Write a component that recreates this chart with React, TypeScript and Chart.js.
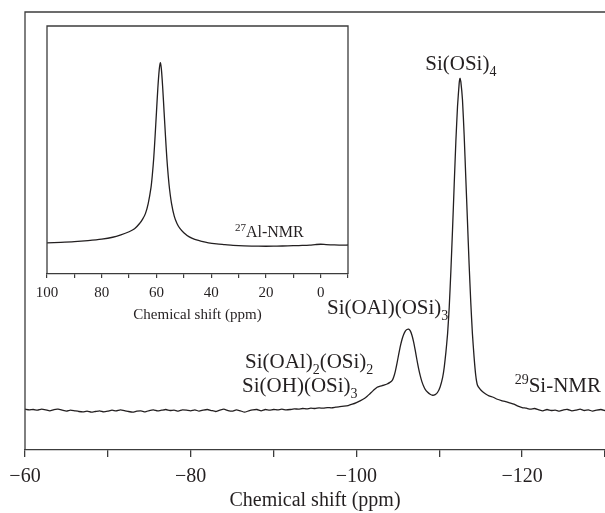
import React, { useEffect, useRef } from 'react';
import { Chart, registerables } from 'chart.js';

Chart.register(...registerables);

// 29Si MAS NMR spectrum (main plot)
const siShift = [
  -60, -60.5, -61, -61.5, -62, -62.5, -63, -63.5, -64, -64.5, -65, -65.5, -66, -66.5, -67, -67.5,
  -68, -68.5, -69, -69.5, -70, -70.5, -71, -71.5, -72, -72.5, -73, -73.5, -74, -74.5, -75, -75.5,
  -76, -76.5, -77, -77.5, -78, -78.5, -79, -79.5, -80, -80.5, -81, -81.5, -82, -82.5, -83, -83.5,
  -84, -84.5, -85, -85.5, -86, -86.5, -87, -87.5, -88, -88.5, -89, -89.5, -90, -90.5, -91, -91.5,
  -92, -92.5, -93, -93.5, -94, -94.5, -95, -95.5,
  -96, -96.5, -97, -97.5, -98, -98.5, -99, -99.5, -100, -100.5, -101, -101.3, -101.6, -101.9,
  -102.2, -102.5, -102.8, -103.1, -103.4, -103.7, -104.0, -104.3, -104.5, -104.7, -104.9, -105.1,
  -105.3, -105.5, -105.7, -105.9, -106.1, -106.3, -106.5, -106.7, -106.9, -107.1, -107.3, -107.5,
  -107.7, -107.9, -108.1, -108.3, -108.6, -108.9, -109.2, -109.5, -109.8, -110.1, -110.4, -110.6,
  -110.8, -111.0, -111.2, -111.4, -111.6, -111.8, -112.0, -112.2, -112.4, -112.5, -112.6, -112.8,
  -113.0, -113.2, -113.4, -113.6, -113.8, -114.0, -114.2, -114.4, -114.6, -114.9, -115.2, -115.6,
  -116.0, -116.5, -117.0, -117.5, -118.0, -118.5, -119.0, -119.5, -120.0, -120.5, -121, -121.5,
  -122, -122.5, -123, -123.5, -124, -124.5, -125, -125.5, -126, -126.5, -127, -127.5, -128, -128.5,
  -129, -129.5, -130,
];
const siIntensity = [
  0.3, 0.1, 0.2, 0.0, 0.3, 0.1, -0.2, 0.2, 0.3, 0.0, -0.3, 0.0, -0.2, -0.4, -0.5, -0.3,
  -0.6, -0.4, -0.2, -0.5, -0.3, 0.0, -0.2, 0.1, -0.1, -0.4, -0.6, -0.3, -0.2, -0.5, -0.1, 0.1,
  -0.2, 0.0, 0.2, -0.1, 0.0, -0.3, 0.1, 0.0, -0.2, 0.1, -0.3, 0.0, 0.2, -0.1, -0.4, 0.0,
  0.3, -0.1, -0.3, 0.1, -0.2, -0.6, -0.2, 0.1, 0.2, -0.2, 0.2, 0.0, 0.2, 0.1, 0.3, 0.1,
  0.2, 0.4, 0.3, 0.5, 0.4, 0.6, 0.5, 0.7,
  0.6, 0.8, 0.7, 0.9, 1.1, 1.2, 1.4, 1.8, 2.3, 2.9, 3.6, 4.2, 4.9, 5.6,
  6.3, 6.9, 7.2, 7.4, 7.6, 7.9, 8.3, 8.9, 10.0, 11.8, 14.2, 16.8,
  19.3, 21.3, 22.8, 23.8, 24.3, 24.4, 23.9, 22.6, 20.6, 18.0, 15.2, 12.6,
  10.4, 8.6, 7.3, 6.3, 5.4, 4.8, 4.5, 4.7, 5.4, 7.0, 9.8, 13.0,
  17.5, 23.0, 31.0, 42.0, 54.5, 68.0, 81.0, 91.5, 98.5, 100, 99, 93.5,
  83, 70, 57, 44, 32.5, 23, 16, 10.5, 7.6, 6.4, 5.6, 4.9,
  4.3, 3.9, 3.3, 2.9, 2.6, 2.2, 1.8, 1.2, 0.8, 0.6, 0.3, 0.5,
  0.1, -0.2, 0.2, -0.1, 0.0, -0.3, 0.1, 0.2, -0.2, 0.0, 0.3, -0.1, 0.1, -0.3,
  0.0, 0.2, -0.1,
];

// 27Al MAS NMR spectrum (inset)
const alShift = [
  100, 95, 90, 85, 80, 76, 73, 70, 68, 66, 65, 64, 63, 62, 61.5, 61, 60.5, 60, 59.5, 59, 58.6,
  58.2, 57.7, 57.2, 56.7, 56.2, 55.7, 55.2, 54.5, 53.5, 52.5, 51.5, 50, 48, 46, 44, 41, 38, 35,
  32, 28, 24, 20, 16, 12, 8, 4, 2, 0, -2, -5, -8, -10,
];
const alIntensity = [
  1.9, 2.2, 2.6, 3.2, 4.0, 5.0, 6.3, 8.0, 9.6, 12.8, 15.0, 18.0, 23.5, 32, 39, 48, 60, 73, 86, 96, 100,
  96.5, 86, 73, 60, 48, 38.5, 31, 23.5, 16.5, 12.5, 10, 7.5, 5.2, 3.8, 3.0, 2.0, 1.4, 1.0,
  0.6, 0.3, 0.2, 0.1, 0.2, 0.3, 0.5, 0.7, 1.0, 1.2, 1.0, 0.8, 0.7, 0.8,
];

const mainLabeledTicks = [-60, -80, -100, -120];
const insetLabeledTicks = [100, 80, 60, 40, 20, 0];
const axisTitle = 'Chemical shift (ppm)';

type Part = [string, number]; // text, 0 normal / -1 subscript / 1 superscript
const mainAnnotations: { parts: Part[]; x: number; y: number; align: 'left' | 'center' }[] = [
  { parts: [['Si(OSi)', 0], ['4', -1]], x: -112.6, y: 102.5, align: 'center' },
  { parts: [['Si(OAl)(OSi)', 0], ['3', -1]], x: -96.45, y: 29.0, align: 'left' },
  { parts: [['Si(OAl)', 0], ['2', -1], ['(OSi)', 0], ['2', -1]], x: -86.55, y: 12.7, align: 'left' },
  { parts: [['Si(OH)(OSi)', 0], ['3', -1]], x: -86.2, y: 5.5, align: 'left' },
  { parts: [['29', 1], ['Si-NMR', 0]], x: -119.1, y: 5.5, align: 'left' },
];
const insetAnnotations: { parts: Part[]; x: number; y: number; align: 'left' | 'center' }[] = [
  { parts: [['27', 1], ['Al-NMR', 0]], x: 31.3, y: 5.1, align: 'left' },
];

const FONT = "'Liberation Serif', 'DejaVu Serif', serif";
const INK = '#231f20';
const FRAME = '#3c3c3c';

function drawRich(ctx: CanvasRenderingContext2D, parts: Part[], x: number, y: number, size: number, align: string) {
  const small = Math.round(size * 0.68);
  const widths = parts.map(([t, s]) => {
    ctx.font = `${s === 0 ? size : small}px ${FONT}`;
    return ctx.measureText(t).width;
  });
  const total = widths.reduce((a, b) => a + b, 0);
  let cx = align === 'center' ? x - total / 2 : x;
  ctx.textBaseline = 'alphabetic';
  ctx.textAlign = 'left';
  parts.forEach(([t, s], i) => {
    ctx.font = `${s === 0 ? size : small}px ${FONT}`;
    const dy = s === -1 ? size * 0.3 : s === 1 ? -size * 0.4 : 0;
    ctx.fillText(t, cx, y + dy);
    cx += widths[i];
  });
}

function makeAnnotationPlugin(list: typeof mainAnnotations, size: number) {
  return {
    id: 'annot',
    afterDraw(chart: any) {
      const { ctx, scales } = chart;
      ctx.save();
      ctx.fillStyle = INK;
      list.forEach((a) => {
        drawRich(ctx, a.parts, scales.x.getPixelForValue(a.x), scales.y.getPixelForValue(a.y), size, a.align);
      });
      ctx.restore();
    },
  };
}

function makeFramePlugin(full: boolean) {
  return {
    id: 'frame',
    beforeDraw(chart: any) {
      if (!full) return;
      const { ctx, chartArea: { left, top, right, bottom } } = chart;
      ctx.save();
      ctx.fillStyle = '#ffffff';
      ctx.fillRect(left, top, right - left, bottom - top);
      ctx.restore();
    },
    afterDraw(chart: any) {
      const { ctx, chartArea: { left, top, right, bottom } } = chart;
      ctx.save();
      ctx.strokeStyle = FRAME;
      ctx.lineWidth = 1.3;
      ctx.beginPath();
      ctx.moveTo(left, bottom);
      ctx.lineTo(left, top);
      ctx.lineTo(right, top);
      if (full) ctx.lineTo(right, bottom);
      ctx.stroke();
      ctx.restore();
    },
  };
}

export default function App() {
  const mainRef = useRef<HTMLCanvasElement>(null);
  const insetRef = useRef<HTMLCanvasElement>(null);

  useEffect(() => {
    const main = new Chart(mainRef.current!, {
      type: 'line',
      data: {
        datasets: [
          {
            data: siShift.map((x, i) => ({ x, y: siIntensity[i] })),
            borderColor: INK,
            borderWidth: 1.3,
            pointRadius: 0,
            tension: 0.15,
          },
        ],
      },
      options: {
        responsive: false,
        animation: false,
        events: [],
        layout: { padding: { left: 25, top: 12, right: 0, bottom: 0 } },
        plugins: { legend: { display: false }, tooltip: { enabled: false } },
        scales: {
          x: {
            type: 'linear',
            min: -130,
            max: -60,
            reverse: true,
            afterFit: (s: any) => { s.height = 63; s.paddingLeft = 0; s.paddingRight = 0; },
            ticks: {
              stepSize: 10,
              autoSkip: false,
              maxRotation: 0,
              padding: 8,
              color: INK,
              font: { family: FONT, size: 20 },
              callback: (v: any) => (mainLabeledTicks.includes(Number(v)) ? '\u2212' + Math.abs(Number(v)) : ''),
            },
            grid: { drawOnChartArea: false, drawTicks: true, tickLength: 7, color: FRAME, lineWidth: 1.3 },
            border: { display: true, color: FRAME, width: 1.3 },
            title: { display: true, text: axisTitle, color: INK, font: { family: FONT, size: 20 }, padding: { top: 0, bottom: 0 } },
          },
          y: { min: -12, max: 120, display: false },
        },
      },
      plugins: [makeFramePlugin(false), makeAnnotationPlugin(mainAnnotations, 21)],
    });

    const inset = new Chart(insetRef.current!, {
      type: 'line',
      data: {
        datasets: [
          {
            data: alShift.map((x, i) => ({ x, y: alIntensity[i] })),
            borderColor: INK,
            borderWidth: 1.3,
            pointRadius: 0,
            tension: 0.3,
          },
        ],
      },
      options: {
        responsive: false,
        animation: false,
        events: [],
        layout: { padding: { left: 47, top: 26, right: 257, bottom: 189 } },
        plugins: { legend: { display: false }, tooltip: { enabled: false } },
        scales: {
          x: {
            type: 'linear',
            min: -10,
            max: 100,
            reverse: true,
            afterFit: (s: any) => { s.height = 50; s.paddingLeft = 0; s.paddingRight = 0; },
            ticks: {
              stepSize: 10,
              autoSkip: false,
              maxRotation: 0,
              padding: 6,
              color: INK,
              font: { family: FONT, size: 15 },
              callback: (v: any) => (insetLabeledTicks.includes(Number(v)) ? String(v) : ''),
            },
            grid: { drawOnChartArea: false, drawTicks: true, tickLength: 4, color: FRAME, lineWidth: 1.2 },
            border: { display: true, color: FRAME, width: 1.3 },
            title: { display: true, text: axisTitle, color: INK, font: { family: FONT, size: 15 }, padding: { top: 0, bottom: 0 } },
          },
          y: { min: -15, max: 120, display: false },
        },
      },
      plugins: [makeFramePlugin(true), makeAnnotationPlugin(insetAnnotations, 16)],
    });

    return () => {
      main.destroy();
      inset.destroy();
    };
  }, []);

  return (
    <div style={{ position: 'fixed', left: 0, top: 0, width: 605, height: 513, background: '#fff', overflow: 'hidden' }}>
      <canvas ref={mainRef} width={605} height={513} style={{ position: 'absolute', left: 0, top: 0 }} />
      <canvas ref={insetRef} width={605} height={513} style={{ position: 'absolute', left: 0, top: 0 }} />
    </div>
  );
}
